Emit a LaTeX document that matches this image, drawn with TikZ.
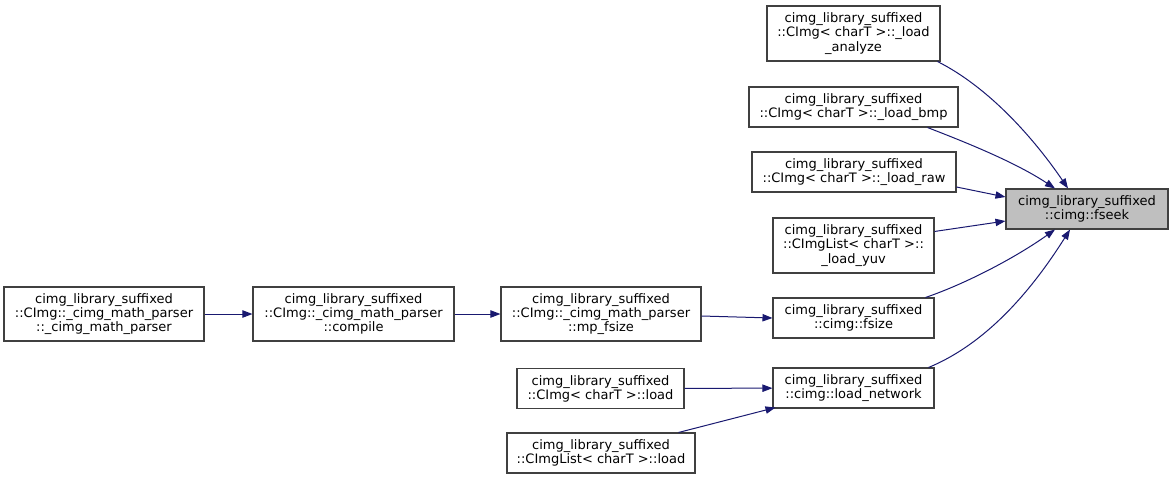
\documentclass[tikz,border=0pt]{standalone}
\usepackage{fontspec}
\setmainfont{DejaVu Sans}
\usetikzlibrary{arrows.meta,calc}
\definecolor{edgecol}{HTML}{191970}
\definecolor{boxcol}{HTML}{404040}
\definecolor{hilite}{HTML}{BFBFBF}
\tikzset{
  box/.style 2 args={draw=boxcol, line width=0.8pt, fill=white, inner sep=0pt,
    align=center, minimum width=#1*0.75pt, minimum height=#2*0.75pt,
    font=\fontsize{9.75}{10.6}\selectfont},
  edge/.style={draw=edgecol, line width=0.75pt,
    -{Triangle[length=7.5pt,width=5.5pt]}}
}
\begin{document}
\begin{tikzpicture}[x=0.75pt,y=-0.75pt]
\useasboundingbox (0,0) rectangle (1173,479);
\node[box={173}{55}] (analyze) at (853.5,33.5) {cimg\_library\_suffixed\\::CImg< charT >::\_load\\\_analyze};
\node[box={209}{40}] (bmp) at (853.5,107) {cimg\_library\_suffixed\\::CImg< charT >::\_load\_bmp};
\node[box={204}{40}] (raw) at (854,172) {cimg\_library\_suffixed\\::CImg< charT >::\_load\_raw};
\node[box={162}{40}, fill=hilite] (fseek) at (1087,209) {cimg\_library\_suffixed\\::cimg::fseek};
\node[box={161}{55}] (yuv) at (853.5,245.5) {cimg\_library\_suffixed\\::CImgList< charT >::\\\_load\_yuv};
\node[box={161}{40}] (fsize) at (853.5,318) {cimg\_library\_suffixed\\::cimg::fsize};
\node[box={161}{40}] (loadnet) at (853.5,388) {cimg\_library\_suffixed\\::cimg::load\_network};
\node[box={167}{40}] (cimgload) at (600.5,388.5) {cimg\_library\_suffixed\\::CImg< charT >::load};
\node[box={188}{40}] (listload) at (601,453) {cimg\_library\_suffixed\\::CImgList< charT >::load};
\node[box={200}{54}] (mpfsize) at (601,314) {cimg\_library\_suffixed\\::CImg::\_cimg\_math\_parser\\::mp\_fsize};
\node[box={201}{54}] (compile) at (353.5,314) {cimg\_library\_suffixed\\::CImg::\_cimg\_math\_parser\\::compile};
\node[box={200}{54}] (parser) at (104,314) {cimg\_library\_suffixed\\::CImg::\_cimg\_math\_parser\\::\_cimg\_math\_parser};

% edges into fseek
\draw[edge] ($(analyze.south east)+(-3,0)$) .. controls (990,88) and (1035,140) .. ($(fseek.north)+(-19,0)$);
\draw[edge] ($(bmp.south east)+(-31,0)$) .. controls (965,142) and (1015,162) .. ($(fseek.north)+(-32,0)$);
\draw[edge] ($(raw.east)+(0,15)$) -- ($(fseek.west)+(0,-12)$);
\draw[edge] ($(yuv.north east)+(0,14)$) -- ($(fseek.west)+(0,12)$);
\draw[edge] ($(fsize.north east)+(-9,0)$) .. controls (965,284) and (1015,258) .. ($(fseek.south)+(-32,0)$);
\draw[edge] ($(loadnet.north east)+(-6,0)$) .. controls (990,342) and (1035,285) .. ($(fseek.south)+(-17,0)$);

% left chain
\draw[edge] (parser) -- (compile);
\draw[edge] (compile) -- (mpfsize);
\draw[edge] ($(mpfsize.east)+(0,2)$) -- (fsize.west);
\draw[edge] (cimgload) -- (loadnet);
\draw[edge] ($(listload.north east)+(-17,0)$) -- ($(loadnet.south west)+(3,-1)$);
\end{tikzpicture}
\end{document}
